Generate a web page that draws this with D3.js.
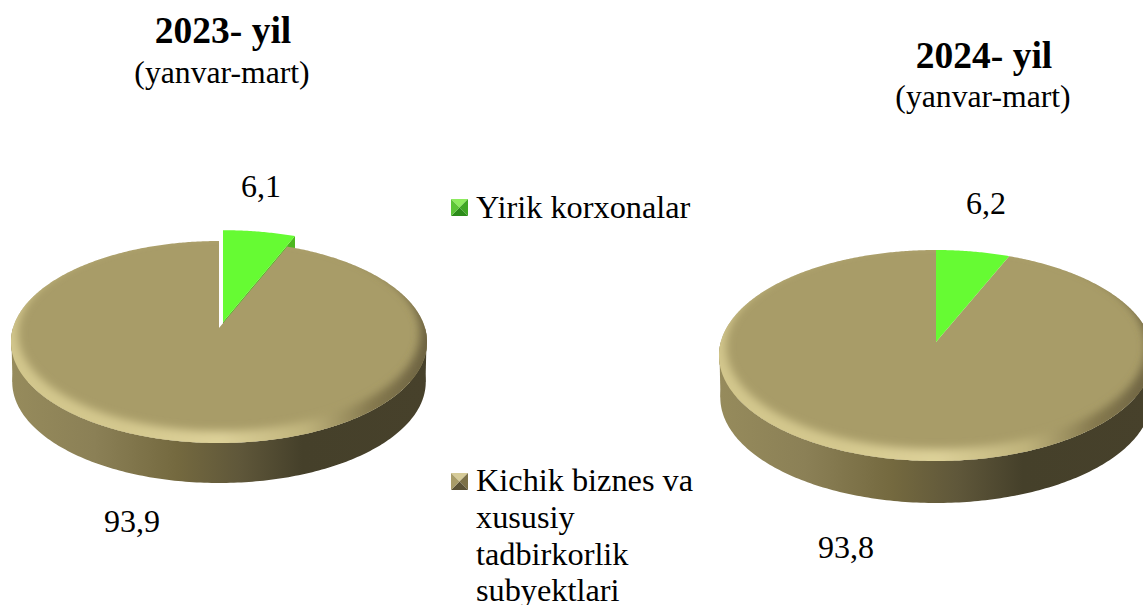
<!DOCTYPE html>
<html><head><meta charset="utf-8">
<script src="https://cdn.jsdelivr.net/npm/d3@7"></script>
<style>html,body{margin:0;padding:0;background:#fff;overflow:hidden}svg{display:block}text{font-family:"Liberation Serif",serif;fill:#000}</style>
</head><body><svg id="c" width="1143" height="605"></svg>
<script>
const categories = ["Yirik korxonalar", "Kichik biznes va xususiy tadbirkorlik subyektlari"];
const years = ["2023- yil", "2024- yil"];
const period = "(yanvar-mart)";
const values2023 = [6.1, 93.9];
const values2024 = [6.2, 93.8];
const labels2023 = ["6,1", "93,9"];
const labels2024 = ["6,2", "93,8"];
const legendLines = [["Yirik korxonalar"], ["Kichik biznes va", "xususiy", "tadbirkorlik", "subyektlari"]];

const svg = d3.select("#c");
const defs = svg.append("defs");

const blur = defs.append("filter").attr("id","bevelBlur").attr("x","-10%").attr("y","-20%").attr("width","120%").attr("height","140%");
blur.append("feGaussianBlur").attr("stdDeviation",4.5);

function grad(id, stops, attrs){
  const g = defs.append("linearGradient").attr("id",id);
  Object.entries(attrs||{}).forEach(([k,v])=>g.attr(k,v));
  stops.forEach(([o,c])=>g.append("stop").attr("offset",o).attr("stop-color",c));
}
grad("side",[[0,"#968B5C"],[.2,"#8B8056"],[.4,"#74693F"],[.55,"#5F573A"],[.7,"#45402A"],[1,"#47412B"]]);
grad("bevel",[[0,"#D2C68C"],[.3,"#D4C88E"],[.5,"#DDD199"],[.68,"#C0B47C"],[.82,"#85794E"],[.95,"#6A6040"],[1,"#8C8258"]]);

const pie = d3.pie().sort(null).value(d=>d);
const line = d3.line();

const layouts = [
  {cx:219, cy:342, rx:208, ry:101, depth:40, a:.139, explode:{k:1.055, dx:4, dy:-6},
   values:values2023, labels:labels2023, title:years[0], titleX:223, titleY:43, subY:83,
   topLabel:[261,197], bottomLabel:[132,532]},
  {cx:936, cy:355.5, rx:217, ry:105.5, depth:42, a:.128, explode:null,
   values:values2024, labels:labels2024, title:years[1], titleX:984, titleY:68, subY:107,
   topLabel:[986,214], bottomLabel:[846,558]}
];

layouts.forEach((p,i)=>{
  const g = svg.append("g");
  const s = Math.sqrt(1-p.a*p.a);
  const proj = t => {
    const u=Math.sin(t), v=Math.cos(t), d=1+p.a*v;
    return [p.cx+p.rx*u*s/d, p.cy-p.ry*(v+p.a)/d];
  };
  const apex = [p.cx, p.cy-p.ry*p.a];
  const arcPts = (a0,a1)=>{
    const n=Math.ceil(Math.abs(a1-a0)/.01);
    return d3.range(n+1).map(j=>proj(a0+(a1-a0)*j/n));
  };
  const [small,big] = pie(p.values);

  const e = p.explode;
  const ex = e ? (q=>[apex[0]+(q[0]-apex[0])*e.k+e.dx, apex[1]+(q[1]-apex[1])*e.k+e.dy]) : (q=>q);
  const wedge = [apex,...arcPts(small.startAngle,small.endAngle)].map(ex);
  const tip = wedge[wedge.length-1], wa = wedge[0];

  if(e){
    const sh = 14;
    g.append("path").attr("fill","#4DB71F")
      .attr("d",line([wa,tip,[tip[0],tip[1]+sh],[wa[0],wa[1]+sh]])+"Z");
  }

  // cylinder wall
  const rimBottom = arcPts(Math.PI/2,Math.PI*1.5);
  const low = d3.range(0,201).map(j=>{
    const t=Math.PI*1.5-Math.PI*j/200;
    const q=proj(t);
    return [p.cx+(q[0]-p.cx)*.994, q[1]+p.depth];
  });
  g.append("path").attr("d",line(rimBottom.concat(low))+"Z").attr("fill","url(#side)");
  // left and right ends of the wall reach the widest point of the rim
  const widest = [[p.cx-p.rx+.5,p.cy],[p.cx-p.rx+1.5,p.cy+p.depth],[p.cx+p.rx-1.5,p.cy+p.depth],[p.cx+p.rx-.5,p.cy]];
  g.append("path").attr("d",line(widest)+"Z").attr("fill","url(#side)").lower();

  // top surface of the big slice
  const rx=p.rx, ry=p.ry;
  const bigPts=[apex,...arcPts(big.startAngle,big.endAngle)];
  const bigD=line(bigPts)+"Z";
  const clipId="clip"+i;
  defs.append("clipPath").attr("id",clipId).append("path").attr("d",bigD);
  g.append("path").attr("d",bigD).attr("fill","#A89C68");

  const ell=(cx,cy,a,b)=>`M${cx-a},${cy}A${a},${b} 0 1 0 ${cx+a},${cy}A${a},${b} 0 1 0 ${cx-a},${cy}Z`;
  g.append("g").attr("clip-path",`url(#${clipId})`)
    .append("path")
    .attr("fill-rule","evenodd")
    .attr("fill","url(#bevel)")
    .attr("filter","url(#bevelBlur)")
    .attr("d",ell(p.cx,p.cy,rx+30,ry+30)+ell(p.cx,p.cy-9,rx-7,ry-3));

  g.append("path").attr("d",line(wedge)+"Z").attr("fill","#66FB33");

  svg.append("text").attr("x",p.titleX).attr("y",p.titleY).attr("text-anchor","middle")
    .attr("font-size",37.5).attr("font-weight","bold").text(p.title);
  svg.append("text").attr("x",p.titleX-1).attr("y",p.subY).attr("text-anchor","middle")
    .attr("font-size",31.7).text(period);
  svg.append("text").attr("x",p.topLabel[0]).attr("y",p.topLabel[1]).attr("text-anchor","middle")
    .attr("font-size",32).text(p.labels[0]);
  svg.append("text").attr("x",p.bottomLabel[0]).attr("y",p.bottomLabel[1]).attr("text-anchor","middle")
    .attr("font-size",32).text(p.labels[1]);
});

const markerColours = [
  {top:"#8DEB5E", left:"#5CC437", right:"#3FA624", bottom:"#2C8C1A", mid:"#63E338"},
  {top:"#D6CB98", left:"#A89C68", right:"#7C7148", bottom:"#5A5236", mid:"#A89C68"}
];
const legendY = [199, 473];
const baselines = [[218],[491,528,565,601]];
legendLines.forEach((lines,i)=>{
  const m = svg.append("g").attr("transform",`translate(451,${legendY[i]})`);
  const c = markerColours[i], S=17, b=3;
  [["top",[[0,0],[S,0],[S/2,S/2]]],
   ["right",[[S,0],[S,S],[S/2,S/2]]],
   ["bottom",[[0,S],[S,S],[S/2,S/2]]],
   ["left",[[0,0],[0,S],[S/2,S/2]]]].forEach(([k,pts])=>{
     m.append("path").attr("d",line(pts)+"Z").attr("fill",c[k]);
   });
  lines.forEach((t,j)=>{
    svg.append("text").attr("x",476).attr("y",baselines[i][j]).attr("font-size",32.3).text(t);
  });
});
</script></body></html>
